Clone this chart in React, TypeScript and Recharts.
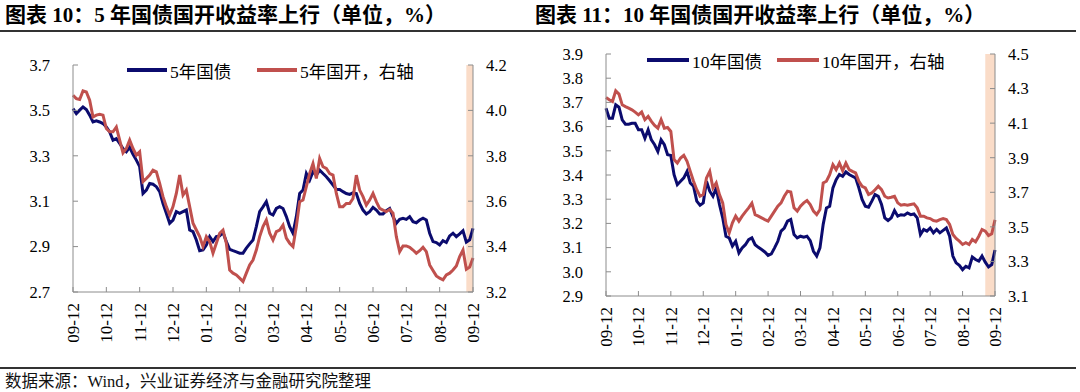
import React from 'react';
import { LineChart, Line, XAxis, YAxis, ReferenceArea } from 'recharts';

// x labels, one every 10 points
const MONTH_LABELS = ['09-12', '10-12', '11-12', '12-12', '01-12', '02-12', '03-12', '04-12', '05-12', '06-12', '07-12', '08-12', '09-12'];

// 5Y government bond yield (left axis)
const GZ5 = [
  3.508, 3.486, 3.501, 3.515, 3.504, 3.479, 3.449, 3.454, 3.449, 3.442,
  3.427, 3.405, 3.369, 3.376, 3.354, 3.332, 3.318, 3.337, 3.307, 3.281,
  3.252, 3.134, 3.149, 3.178, 3.175, 3.164, 3.142, 3.090, 3.047, 3.003,
  3.017, 3.054, 3.047, 3.054, 3.061, 2.973, 2.966, 2.929, 2.882, 2.885,
  2.907, 2.944, 2.922, 2.944, 2.947, 2.962, 2.922, 2.888, 2.882, 2.877,
  2.871, 2.871, 2.893, 2.912, 2.929, 2.988, 3.054, 3.075, 3.098, 3.047,
  3.039, 3.068, 3.076, 3.068, 3.032, 2.988, 2.959, 3.032, 3.134, 3.149,
  3.222, 3.193, 3.230, 3.215, 3.237, 3.222, 3.208, 3.190, 3.171, 3.152,
  3.152, 3.142, 3.134, 3.130, 3.137, 3.134, 3.090, 3.061, 3.044, 3.054,
  3.073, 3.061, 3.044, 3.044, 3.058, 3.068, 3.032, 3.003, 3.020, 3.025,
  3.020, 3.032, 3.010, 3.005, 3.017, 3.025, 3.017, 2.959, 2.922, 2.918,
  2.907, 2.926, 2.918, 2.947, 2.959, 2.944, 2.956, 2.970, 2.920, 2.930,
  2.980,
];

// 5Y policy bank (CDB) yield (right axis)
const GK5 = [
  4.067, 4.052, 4.048, 4.086, 4.081, 4.045, 3.971, 3.979, 3.983, 3.979,
  3.920, 3.906, 3.906, 3.927, 3.869, 3.813, 3.832, 3.869, 3.832, 3.803,
  3.818, 3.686, 3.700, 3.715, 3.737, 3.730, 3.678, 3.620, 3.576, 3.539,
  3.576, 3.634, 3.715, 3.627, 3.649, 3.576, 3.503, 3.473, 3.444, 3.400,
  3.444, 3.422, 3.371, 3.415, 3.459, 3.473, 3.415, 3.297, 3.283, 3.275,
  3.261, 3.246, 3.283, 3.319, 3.341, 3.385, 3.444, 3.488, 3.517, 3.459,
  3.429, 3.466, 3.473, 3.495, 3.437, 3.415, 3.400, 3.488, 3.598, 3.605,
  3.664, 3.722, 3.766, 3.700, 3.788, 3.752, 3.744, 3.722, 3.715, 3.634,
  3.576, 3.576, 3.590, 3.590, 3.612, 3.715, 3.649, 3.620, 3.583, 3.605,
  3.634, 3.598, 3.568, 3.561, 3.554, 3.564, 3.547, 3.444, 3.378, 3.403,
  3.403, 3.397, 3.385, 3.371, 3.382, 3.397, 3.378, 3.319, 3.295, 3.271,
  3.261, 3.254, 3.275, 3.283, 3.297, 3.315, 3.356, 3.385, 3.300, 3.310,
  3.350,
];

// 10Y government bond yield (left axis)
const GZ10 = [
  3.676, 3.635, 3.635, 3.690, 3.680, 3.628, 3.610, 3.610, 3.614, 3.614,
  3.587, 3.587, 3.552, 3.587, 3.545, 3.525, 3.497, 3.545, 3.525, 3.484,
  3.481, 3.401, 3.360, 3.374, 3.388, 3.415, 3.367, 3.354, 3.292, 3.275,
  3.285, 3.374, 3.333, 3.312, 3.346, 3.278, 3.223, 3.147, 3.140, 3.106,
  3.126, 3.078, 3.099, 3.112, 3.133, 3.140, 3.112, 3.101, 3.092, 3.082,
  3.068, 3.074, 3.099, 3.126, 3.168, 3.181, 3.209, 3.216, 3.154, 3.140,
  3.147, 3.143, 3.147, 3.129, 3.085, 3.065, 3.099, 3.196, 3.264, 3.271,
  3.347, 3.381, 3.402, 3.395, 3.413, 3.402, 3.395, 3.388, 3.347, 3.299,
  3.271, 3.267, 3.292, 3.319, 3.312, 3.278, 3.223, 3.212, 3.223, 3.253,
  3.230, 3.236, 3.234, 3.243, 3.236, 3.239, 3.223, 3.154, 3.175, 3.168,
  3.181, 3.161, 3.175, 3.161, 3.171, 3.181, 3.147, 3.065, 3.037, 3.027,
  3.009, 3.023, 3.016, 3.061, 3.051, 3.044, 3.065, 3.040, 3.020, 3.030,
  3.090,
];

// 10Y policy bank (CDB) yield (right axis)
const GK10 = [
  4.248, 4.235, 4.225, 4.287, 4.268, 4.206, 4.196, 4.187, 4.177, 4.164,
  4.148, 4.164, 4.120, 4.139, 4.110, 4.087, 4.071, 4.120, 4.071, 4.075,
  4.052, 3.889, 3.869, 3.898, 3.914, 3.879, 3.821, 3.764, 3.715, 3.677,
  3.687, 3.783, 3.821, 3.725, 3.754, 3.687, 3.639, 3.514, 3.465, 3.523,
  3.562, 3.533, 3.562, 3.587, 3.610, 3.637, 3.571, 3.562, 3.552, 3.542,
  3.533, 3.562, 3.591, 3.620, 3.639, 3.677, 3.706, 3.702, 3.610, 3.591,
  3.620, 3.639, 3.652, 3.629, 3.591, 3.571, 3.600, 3.754, 3.764, 3.802,
  3.860, 3.831, 3.869, 3.825, 3.869, 3.831, 3.821, 3.812, 3.764, 3.735,
  3.725, 3.687, 3.696, 3.715, 3.735, 3.715, 3.677, 3.667, 3.671, 3.677,
  3.639, 3.625, 3.629, 3.625, 3.629, 3.633, 3.610, 3.562, 3.562, 3.552,
  3.548, 3.537, 3.533, 3.542, 3.548, 3.542, 3.514, 3.456, 3.433, 3.417,
  3.398, 3.408, 3.398, 3.427, 3.413, 3.446, 3.485, 3.475, 3.450, 3.460,
  3.540,
];

const TICKS_5_LEFT = [2.7, 2.9, 3.1, 3.3, 3.5, 3.7];
const TICKS_5_RIGHT = [3.2, 3.4, 3.6, 3.8, 4.0, 4.2];
const TICKS_10_LEFT = [2.9, 3.0, 3.1, 3.2, 3.3, 3.4, 3.5, 3.6, 3.7, 3.8, 3.9];
const TICKS_10_RIGHT = [3.1, 3.3, 3.5, 3.7, 3.9, 4.1, 4.3, 4.5];

const NAVY = '#0b0b6e';
const RED = '#c0504d';
const AXIS = '#8c8c8c';
const BAND = '#fadcc8';
const SERIF = '"Liberation Serif", "Noto Sans CJK SC", serif';
const X_TICKS = MONTH_LABELS.map((_, k) => k * 10);

const XTick = (props: any) => {
  const { x, y, payload } = props;
  return (
    <text
      x={x}
      y={y}
      dy="0.35em"
      transform={`rotate(-90, ${x}, ${y})`}
      textAnchor="end"
      fontFamily={SERIF}
      fontSize={17}
      fill="#000"
    >
      {MONTH_LABELS[Math.round(payload.value / 10)]}
    </text>
  );
};

const tickStyle = { fontFamily: SERIF, fontSize: 16.5, fill: '#000' };

interface PanelProps {
  left: number;
  top: number;
  gz: number[];
  gk: number[];
  leftTicks: number[];
  rightTicks: number[];
  leftW: number;
  rightW: number;
  xH: number;
  bandFrom: number;
}

const Panel = ({ left, top, gz, gk, leftTicks, rightTicks, leftW, rightW, xH, bandFrom }: PanelProps) => {
  const rows = gz.map((v, i) => ({ i, gz: v, gk: gk[i] }));
  return (
    <div style={{ position: 'absolute', left: left, top: 0 }}>
      <LineChart width={540} height={360} data={rows} margin={{ top: top, right: 0, bottom: 0, left: 0 }}>
        <XAxis
          dataKey="i"
          type="number"
          domain={[0, 120]}
          ticks={X_TICKS}
          interval={0}
          height={xH}
          tick={<XTick />}
          tickSize={-5}
          tickMargin={16}
          stroke={AXIS}
          tickLine={{ stroke: AXIS }}
        />
        <YAxis
          yAxisId="left"
          domain={[leftTicks[0], leftTicks[leftTicks.length - 1]]}
          ticks={leftTicks}
          interval={0}
          width={leftW}
          tickFormatter={(v: number) => v.toFixed(1)}
          tick={tickStyle}
          tickSize={-5}
          tickMargin={28}
          stroke={AXIS}
        />
        <YAxis
          yAxisId="right"
          orientation="right"
          domain={[rightTicks[0], rightTicks[rightTicks.length - 1]]}
          ticks={rightTicks}
          interval={0}
          width={rightW}
          tickFormatter={(v: number) => v.toFixed(1)}
          tick={tickStyle}
          tickSize={-5}
          tickMargin={18}
          stroke={AXIS}
        />
        <ReferenceArea yAxisId="left" x1={bandFrom} x2={120} fill={BAND} fillOpacity={1} stroke="none" />
        <Line yAxisId="left" dataKey="gz" stroke={NAVY} strokeWidth={3} dot={false} isAnimationActive={false} />
        <Line yAxisId="right" dataKey="gk" stroke={RED} strokeWidth={3} dot={false} isAnimationActive={false} />
      </LineChart>
    </div>
  );
};

const LegendItem = ({ x, y, color, label, lineW }: { x: number; y: number; color: string; label: string; lineW: number }) => (
  <div style={{ position: 'absolute', left: x, top: y - 11, height: 22, display: 'flex', alignItems: 'center', whiteSpace: 'nowrap' }}>
    <div style={{ width: lineW, height: 4, background: color, marginRight: 3 }} />
    <span style={{ fontFamily: SERIF, fontSize: 17.5, color: '#000' }}>{label}</span>
  </div>
);

export default function App() {
  return (
    <div style={{ position: 'absolute', left: 0, top: 0, width: 1080, height: 392, background: '#fff', overflow: 'hidden' }}>
      <div style={{ position: 'absolute', left: 5, top: 1, fontFamily: SERIF, fontSize: 21, lineHeight: '28px', fontWeight: 700, whiteSpace: 'nowrap' }}>
        图表 10：5 年国债国开收益率上行（单位，%）
      </div>
      <div style={{ position: 'absolute', left: 535, top: 1, fontFamily: SERIF, fontSize: 21, lineHeight: '28px', fontWeight: 700, whiteSpace: 'nowrap' }}>
        图表 11：10 年国债国开收益率上行（单位，%）
      </div>
      <div style={{ position: 'absolute', left: 0, top: 30, width: 1076, height: 2, background: '#333' }} />

      <Panel left={0} top={65} gz={GZ5} gk={GK5} leftTicks={TICKS_5_LEFT} rightTicks={TICKS_5_RIGHT} leftW={73} rightW={67} xH={68} bandFrom={118} />
      <Panel left={540} top={54} gz={GZ10} gk={GK10} leftTicks={TICKS_10_LEFT} rightTicks={TICKS_10_RIGHT} leftW={66} rightW={85} xH={64} bandFrom={117} />

      <LegendItem x={127} y={70} color={NAVY} label="5年国债" lineW={40} />
      <LegendItem x={257} y={70} color={RED} label="5年国开，右轴" lineW={40} />
      <LegendItem x={647} y={60} color={NAVY} label="10年国债" lineW={42} />
      <LegendItem x={777} y={60} color={RED} label="10年国开，右轴" lineW={42} />

      <div style={{ position: 'absolute', left: 0, top: 367, width: 1076, height: 2, background: '#333' }} />
      <div style={{ position: 'absolute', left: 5, top: 372, fontFamily: SERIF, fontSize: 16.5, lineHeight: '19px', color: '#111', whiteSpace: 'nowrap' }}>
        数据来源：Wind，兴业证券经济与金融研究院整理
      </div>
    </div>
  );
}
